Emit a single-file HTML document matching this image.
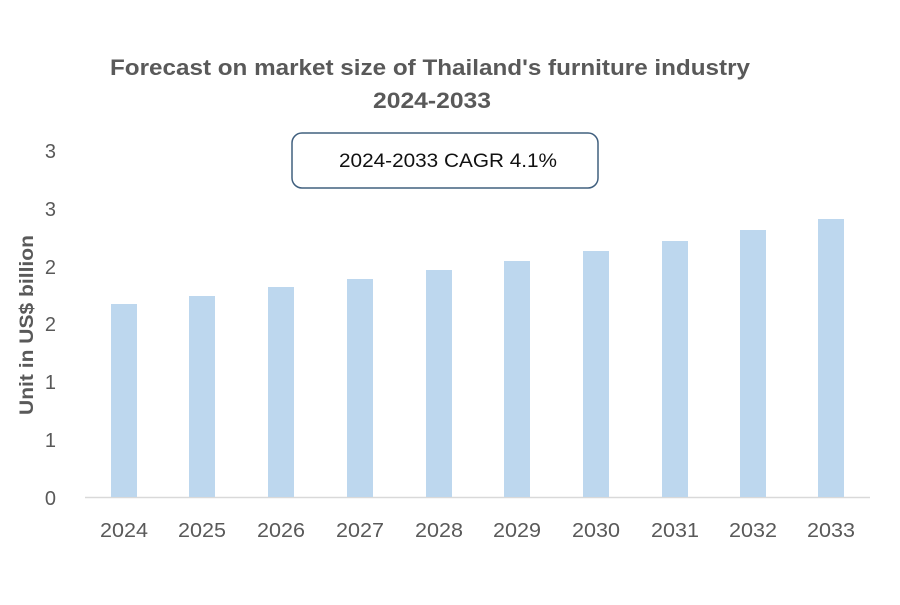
<!DOCTYPE html>
<html><head><style>
body{margin:0;background:#fff;width:900px;height:600px;overflow:hidden;font-family:"Liberation Sans",sans-serif}
</style></head><body>
<svg width="900" height="600" xmlns="http://www.w3.org/2000/svg">
<g font-family="Liberation Sans, sans-serif" font-weight="bold" fill="#595959" font-size="22" text-anchor="middle">
<text x="430" y="75" textLength="640" lengthAdjust="spacingAndGlyphs">Forecast on market size of Thailand's furniture industry</text>
<text x="432" y="108" textLength="118" lengthAdjust="spacingAndGlyphs">2024-2033</text>
</g>
<rect x="292" y="133" width="306" height="55" rx="10" fill="#fff" stroke="#41607f" stroke-width="1.5"/>
<text x="448" y="167" font-size="19" text-anchor="middle" fill="#111" textLength="218" lengthAdjust="spacingAndGlyphs">2024-2033 CAGR 4.1%</text>
<text transform="translate(33,325) rotate(-90)" font-size="19" font-weight="bold" fill="#595959" text-anchor="middle" textLength="180" lengthAdjust="spacingAndGlyphs">Unit in US$ billion</text>
<g font-size="20" fill="#595959" text-anchor="end">
<text x="56" y="505">0</text><text x="56" y="447">1</text><text x="56" y="389">1</text><text x="56" y="331">2</text><text x="56" y="274">2</text><text x="56" y="216">3</text><text x="56" y="158">3</text>
</g>
<line x1="85" y1="497.5" x2="870" y2="497.5" stroke="#d9d9d9" stroke-width="1.5"/>
<g fill="#bdd7ee">
<rect x="111" y="304" width="26" height="193"/>
<rect x="189" y="296" width="26" height="201"/>
<rect x="268" y="287" width="26" height="210"/>
<rect x="347" y="279" width="26" height="218"/>
<rect x="426" y="270" width="26" height="227"/>
<rect x="504" y="261" width="26" height="236"/>
<rect x="583" y="251" width="26" height="246"/>
<rect x="662" y="241" width="26" height="256"/>
<rect x="740" y="230" width="26" height="267"/>
<rect x="818" y="219" width="26" height="278"/>
</g>
<g font-size="20" fill="#595959" text-anchor="middle">
<text x="124" y="537" textLength="48" lengthAdjust="spacingAndGlyphs">2024</text><text x="202" y="537" textLength="48" lengthAdjust="spacingAndGlyphs">2025</text><text x="281" y="537" textLength="48" lengthAdjust="spacingAndGlyphs">2026</text><text x="360" y="537" textLength="48" lengthAdjust="spacingAndGlyphs">2027</text><text x="439" y="537" textLength="48" lengthAdjust="spacingAndGlyphs">2028</text><text x="517" y="537" textLength="48" lengthAdjust="spacingAndGlyphs">2029</text><text x="596" y="537" textLength="48" lengthAdjust="spacingAndGlyphs">2030</text><text x="675" y="537" textLength="48" lengthAdjust="spacingAndGlyphs">2031</text><text x="753" y="537" textLength="48" lengthAdjust="spacingAndGlyphs">2032</text><text x="831" y="537" textLength="48" lengthAdjust="spacingAndGlyphs">2033</text>
</g>
</svg>
</body></html>
